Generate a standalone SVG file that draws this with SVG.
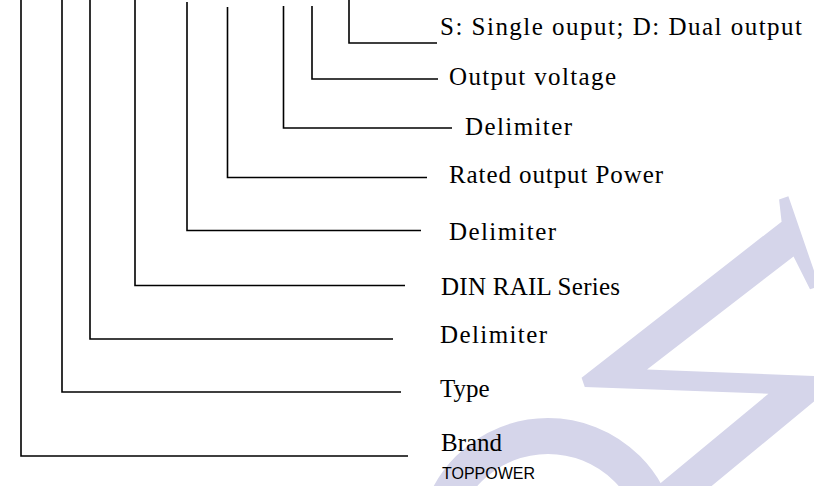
<svg xmlns="http://www.w3.org/2000/svg" width="814" height="486" viewBox="0 0 814 486">
  <style>
    .wm { fill: #D5D5EA; font-family: "Liberation Serif", serif; }
    .lead { fill: none; stroke: #000; stroke-width: 1.6; }
    .lbl { font-family: "Liberation Serif", "Noto Sans CJK SC", serif; font-size: 25px; fill: #000; }
    .brand { font-family: "Liberation Sans", Arial, sans-serif; font-size: 16px; fill: #000; }
  </style>
  <rect width="814" height="486" fill="#fff"/>
  <g id="watermark">
    <ellipse cx="548" cy="548" rx="112" ry="112" fill="none" stroke="#D5D5EA" stroke-width="36"/>
    <text class="wm" x="553" y="277" font-size="380" transform="rotate(71 553 277)">W</text>
  </g>
  <g id="connectors">
    <path class="lead" d="M21 0 V456 H408"/>
    <path class="lead" d="M62 0 V392 H401"/>
    <path class="lead" d="M90 0 V339 H393"/>
    <path class="lead" d="M135 0 V285.5 H405"/>
    <path class="lead" d="M187 2 V230.5 H421"/>
    <path class="lead" d="M227.5 7 V177.5 H427"/>
    <path class="lead" d="M283.5 6 V128 H452"/>
    <path class="lead" d="M312 6 V79 H438"/>
    <path class="lead" d="M349 0 V43 H437"/>
  </g>
  <g id="n-shape"><text class="lbl" x="440" y="35" textLength="362" lengthAdjust="spacing">S: Single ouput; D: Dual output</text></g>
  <g id="n-voltage"><text class="lbl" x="449" y="85" textLength="167" lengthAdjust="spacing">Output voltage</text></g>
  <g id="n-delim3"><text class="lbl" x="465" y="135" textLength="107" lengthAdjust="spacing">Delimiter</text></g>
  <g id="n-power"><text class="lbl" x="449" y="183" textLength="214" lengthAdjust="spacing">Rated output Power</text></g>
  <g id="n-delim2"><text class="lbl" x="449" y="240" textLength="107" lengthAdjust="spacing">Delimiter</text></g>
  <g id="n-series"><text class="lbl" x="441" y="295" textLength="179" lengthAdjust="spacing">DIN RAIL Series</text></g>
  <g id="n-delim1"><text class="lbl" x="440" y="343" textLength="107" lengthAdjust="spacing">Delimiter</text></g>
  <g id="n-type"><text class="lbl" x="440" y="397">Type</text></g>
  <g id="n-brand">
    <text class="lbl" x="441" y="451">Brand</text>
    <text class="brand" x="442" y="479">TOPPOWER</text>
  </g>
</svg>
